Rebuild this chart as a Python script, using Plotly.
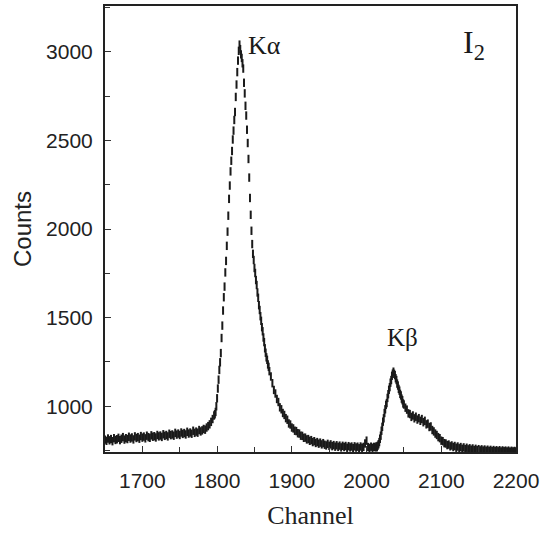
import numpy as np
import plotly.graph_objects as go

# Channel axis, sampled densely around the two peaks
channels = np.concatenate([
    np.arange(1650, 1797, 2),
    np.arange(1797, 1871, 1),
    np.arange(1872, 2013, 2),
    np.arange(2013, 2051, 1),
    np.arange(2052, 2201, 2),
])

# Counts, segment by segment
counts_baseline = [
    812, 805, 818, 808, 815, 803, 820, 810, 814, 822,
    809, 817, 826, 812, 820, 815, 828, 818, 824, 813,
    830, 821, 826, 817, 832, 823, 829, 819, 834, 826,
    822, 836, 828, 831, 824, 838, 830, 835, 827, 842,
    833, 838, 830, 845, 837, 841, 834, 850, 840, 846,
    838, 852, 844, 849, 841, 856, 846, 852, 845, 862,
    850, 857, 851, 866, 858, 864, 872, 868, 880, 888,
    898, 912, 928, 948,
]
counts_kalpha = [
    955, 968, 1000, 1045, 1100, 1150, 1205, 1248, 1300, 1385,
    1455, 1540, 1615, 1675, 1755, 1820, 1905, 1985, 2075, 2170,
    2245, 2325, 2385, 2440, 2505, 2555, 2615, 2660, 2745, 2815,
    2885, 2950, 3005, 3040, 3015, 2985, 2965, 2935, 2905, 2825,
    2765, 2695, 2640, 2560, 2485, 2395, 2290, 2175, 2080, 1990,
    1915, 1860, 1825, 1780, 1752, 1712, 1684, 1642, 1612, 1570,
    1543, 1508, 1482, 1446, 1423, 1388, 1362, 1327, 1302, 1276,
    1262, 1236, 1222, 1198,
]
counts_valley = [
    1168, 1130, 1092, 1072, 1041, 1024, 994, 983, 962, 951,
    933, 924, 903, 897, 880, 875, 862, 860, 848, 846,
    834, 833, 822, 823, 813, 815, 805, 809, 798, 803,
    793, 798, 789, 795, 785, 792, 783, 779, 788, 777,
    785, 775, 781, 772, 780, 771, 778, 768, 777, 770,
    776, 766, 775, 768, 773, 764, 774, 767, 772, 763,
    773, 766, 771, 790, 806, 770, 765, 772, 766, 771, 768,
]
counts_kbeta = [
    774, 769, 778, 786, 798, 817, 834, 862, 884, 913,
    932, 962, 983, 1008, 1018, 1047, 1068, 1093, 1108, 1133,
    1148, 1172, 1184, 1195, 1183, 1176, 1158, 1148, 1128, 1117,
    1098, 1088, 1070, 1061, 1043, 1034, 1016, 1010,
]
counts_tail = [
    992, 981, 960, 956, 940, 948, 932, 941, 925, 933,
    918, 928, 910, 918, 898, 902, 883, 886, 866, 858,
    846, 838, 826, 820, 806, 803, 792, 790, 781, 784,
    774, 779, 770, 776, 766, 773, 763, 770, 760, 768,
    758, 766, 757, 763, 755, 762, 753, 760, 752, 758,
    751, 757, 750, 756, 749, 755, 748, 754, 747, 753,
    747, 752, 746, 752, 745, 751, 746, 750, 745, 750,
    744, 749, 745, 748, 745,
]
counts = counts_baseline + counts_kalpha + counts_valley + counts_kbeta + counts_tail

x_ticks = [1700, 1800, 1900, 2000, 2100, 2200]
y_ticks = [1000, 1500, 2000, 2500, 3000]

ink = "#1a1a1a"
serif = "Liberation Serif, Times New Roman, serif"
sans = "Liberation Sans, Arial, sans-serif"

fig = go.Figure()

fig.add_trace(
    go.Scatter(
        x=channels,
        y=counts,
        mode="markers",
        marker=dict(
            symbol="line-ns",
            size=6,
            line=dict(width=2, color=ink),
            color=ink
        ),
        showlegend=False
    )
)

# Peak labels
fig.add_annotation(
    x=1839, y=3035, text="Kα", showarrow=False,
    xanchor="left", yanchor="middle",
    font=dict(family=serif, size=26, color=ink)
)
fig.add_annotation(
    x=2048, y=1387, text="Kβ", showarrow=False,
    xanchor="center", yanchor="middle",
    font=dict(family=serif, size=25, color=ink)
)
fig.add_annotation(
    x=2127, y=3170, text="I<sub>2</sub>", showarrow=False,
    xanchor="left", yanchor="top",
    font=dict(family=serif, size=32, color=ink)
)

axis_common = dict(
    showline=True,
    linecolor="#222222",
    linewidth=2,
    mirror=True,
    showgrid=False,
    zeroline=False,
    ticks="inside",
    ticklen=6,
    tickwidth=1,
    tickcolor="#333333",
    tickfont=dict(family=sans, size=21, color="#222222"),
)

fig.update_layout(
    width=552,
    height=536,
    margin=dict(l=105, r=36, t=4, b=84),
    paper_bgcolor="white",
    plot_bgcolor="white",
    xaxis=dict(
        axis_common,
        range=[1650, 2200],
        tickvals=x_ticks,
        ticklabelstandoff=9,
        minor=dict(ticks="inside", ticklen=5, tickcolor="#333333", dtick=50, tick0=1650),
        title=dict(
            text="Channel",
            font=dict(family=serif, size=26, color="#222222"),
            standoff=15
        ),
    ),
    yaxis=dict(
        axis_common,
        range=[742, 3258],
        tickvals=y_ticks,
        ticklabelstandoff=6,
        minor=dict(ticks="inside", ticklen=5, tickcolor="#333333", dtick=250, tick0=750),
        title=dict(
            text="Counts",
            font=dict(family=sans, size=24, color="#222222"),
            standoff=8
        ),
    ),
)

# drop the page's default body margin so the figure sits at the window corner
fig.write_html(
    "out.html",
    config={"displayModeBar": False},
    post_script="document.body.style.margin='0';"
)
